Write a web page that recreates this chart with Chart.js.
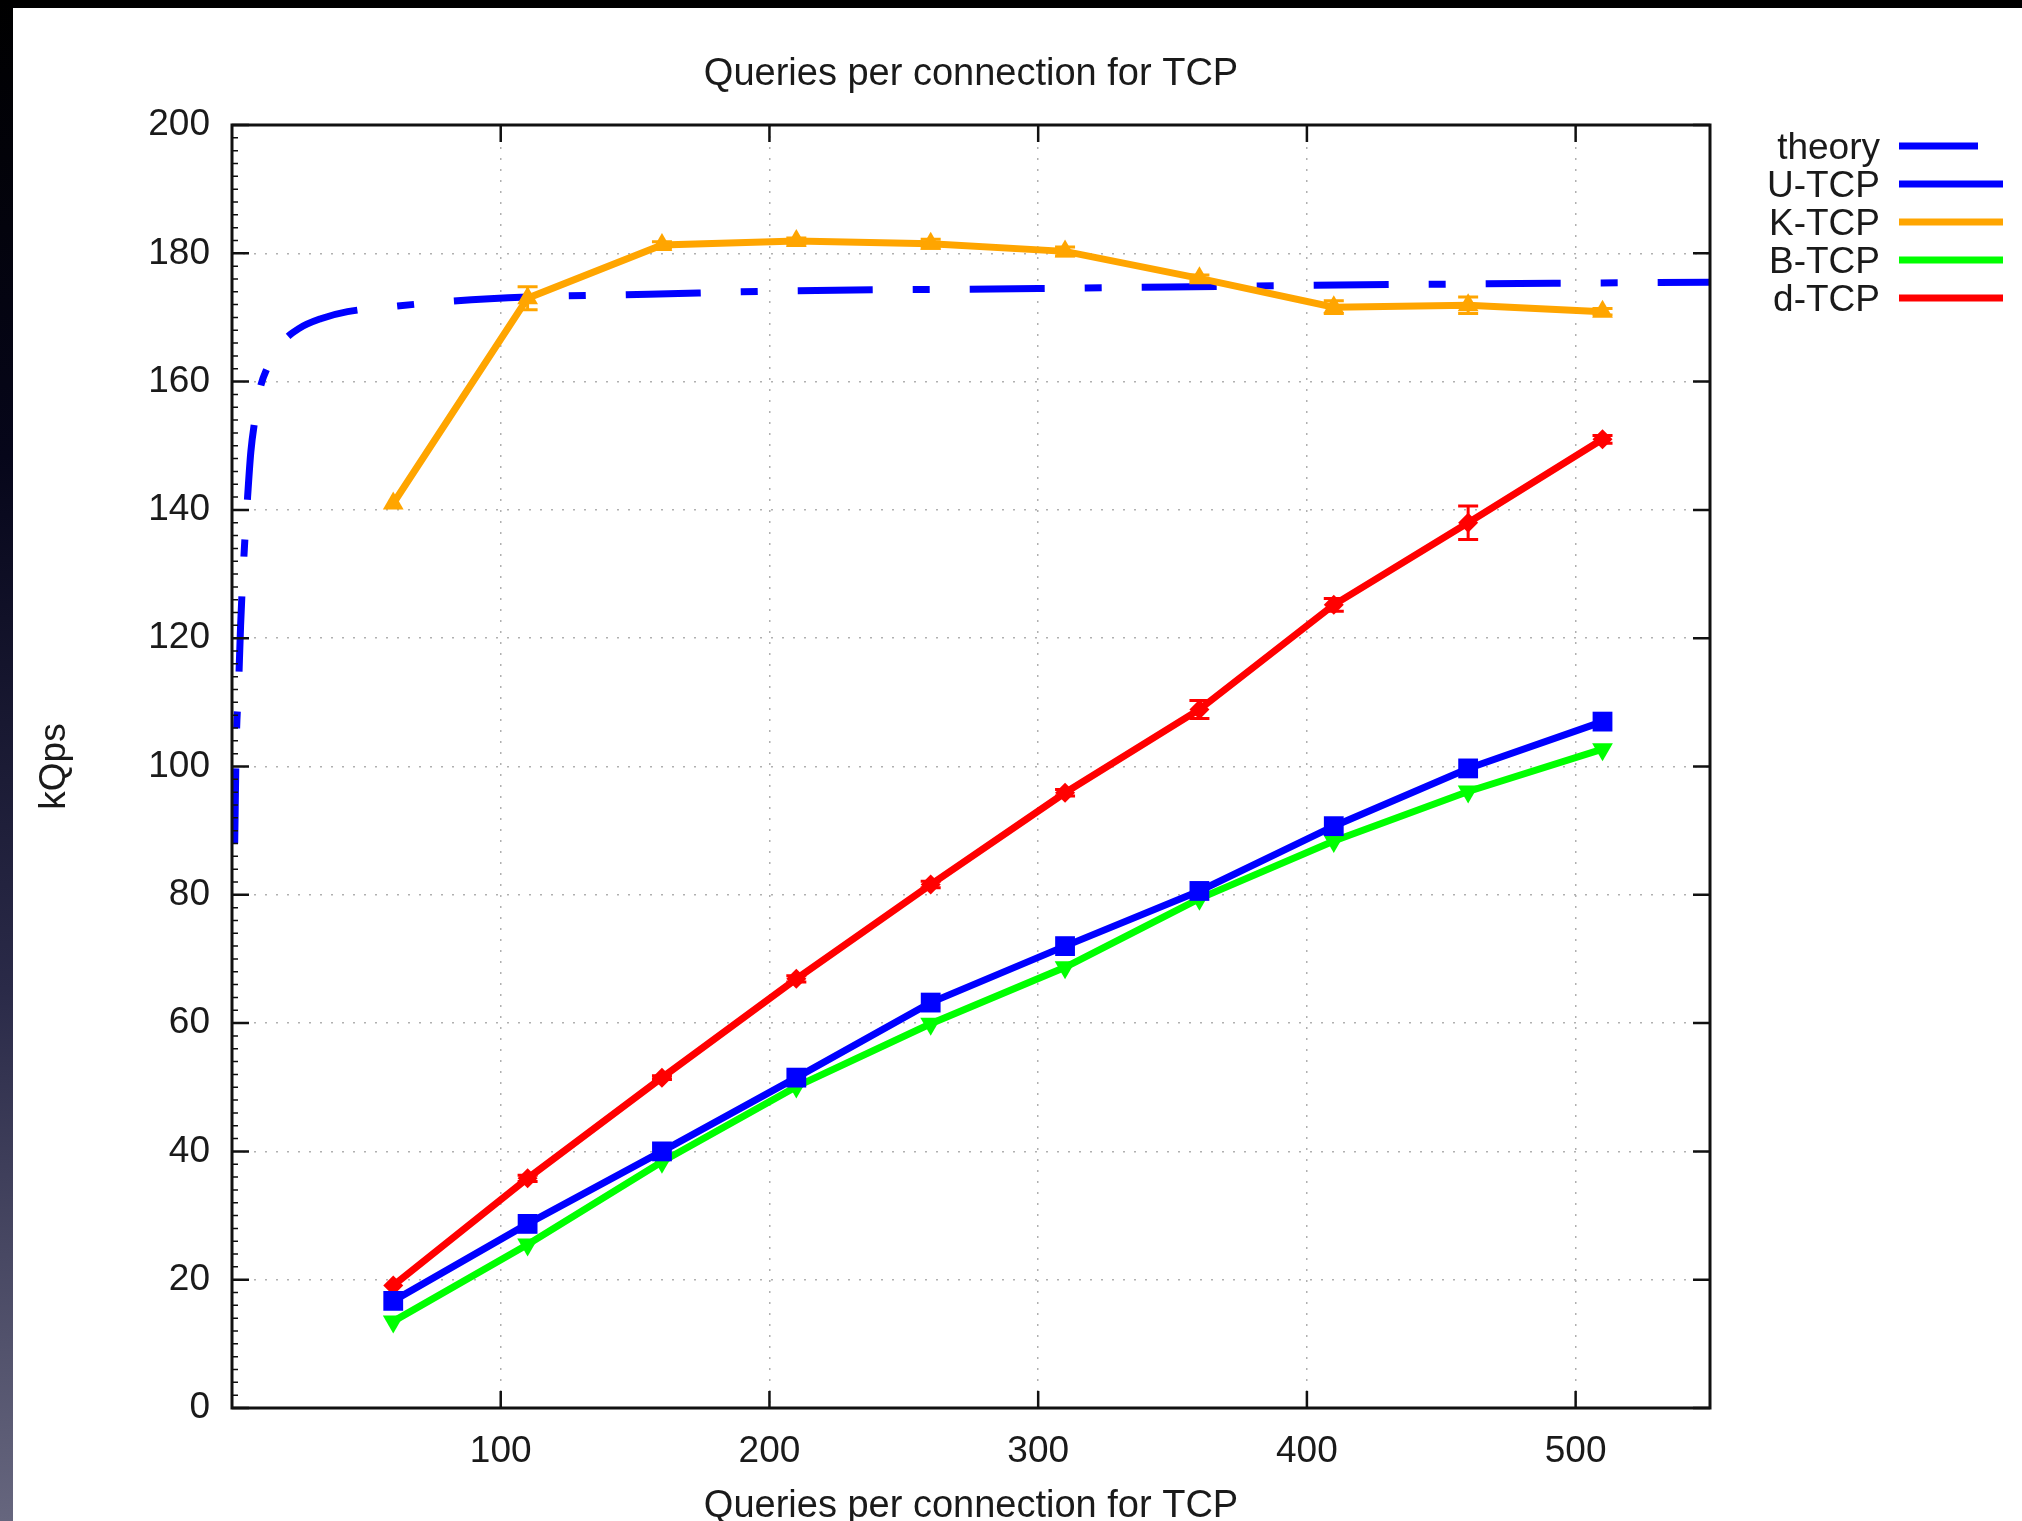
<!DOCTYPE html>
<html>
<head>
<meta charset="utf-8">
<title>Queries per connection for TCP</title>
<script src="https://cdn.jsdelivr.net/npm/chart.js@4.4.0/dist/chart.umd.min.js"></script>
<style>
  html, body { margin: 0; padding: 0; width: 2022px; height: 1521px; overflow: hidden; }
  body { background: linear-gradient(to bottom, #000 0%, #06061a 30%, #2a2a48 65%, #66667e 100%); }
  #sheet { position: absolute; left: 13px; top: 8px; width: 2009px; height: 1513px; background: #fff; }
</style>
</head>
<body>
<div id="sheet"><canvas id="myChart"></canvas></div>
<script>
// queries per connection (x) for the measured series
var connQueries = [60, 110, 160, 210, 260, 310, 360, 410, 460, 510];

// kQps
var uTcp = [16.7, 28.7, 40.0, 51.5, 63.2, 72.0, 80.6, 90.7, 99.7, 107.0];
var kTcp = [141.0, 173.0, 181.3, 181.9, 181.5, 180.3, 176.1, 171.6, 171.9, 170.9];
var bTcp = [13.5, 25.5, 38.4, 50.1, 59.9, 68.7, 79.4, 88.4, 96.1, 102.7];
var dTcp = [19.1, 35.8, 51.5, 66.9, 81.6, 95.9, 108.9, 125.2, 138.0, 151.0];

// error bar half heights (kQps)
var kTcpErr = [0, 1.8, 0.5, 0.5, 0.7, 0.7, 0.5, 1.0, 1.3, 0.5];
var dTcpErr = [0, 0.5, 0.3, 0.5, 0.5, 0.5, 1.4, 1.0, 2.6, 0.6];

// theory curve
var theoryX = [1, 1.6, 2.4, 3.2, 4.6, 5.8, 7, 8.5, 10.5, 13, 18.5, 25, 33, 43, 60, 80, 110, 155, 200, 300, 400, 550];
var theoryY = [88, 104, 112, 122, 134, 142, 149, 154, 159, 162, 166, 168.3, 169.8, 170.9, 171.7, 172.5, 173.2, 173.6, 174.1, 174.5, 175.0, 175.5];

var xTicks = [100, 200, 300, 400, 500];

var FONT = '"Liberation Sans", Arial, Helvetica, sans-serif';
var TEXT = '#1a1a1a';

function toPoints(xs, ys) {
    var pts = [];
    for (var i = 0; i < xs.length; i++) {
        pts.push({x: xs[i], y: ys[i]});
    }
    return pts;
}

// gnuplot style frame, inward tics, error bars, title and key
var gnuplotFrame = {
    id: 'gnuplotFrame',
    afterDatasetsDraw: function(chart) {
        var ctx = chart.ctx;
        var xs = chart.scales.x, ys = chart.scales.y;
        chart.data.datasets.forEach(function(ds) {
            if (!ds.errors) return;
            ctx.save();
            ctx.strokeStyle = ds.borderColor;
            ctx.lineWidth = 3;
            ds.data.forEach(function(p, i) {
                var e = ds.errors[i];
                if (!e) return;
                var px = xs.getPixelForValue(p.x);
                var top = ys.getPixelForValue(p.y + e);
                var bot = ys.getPixelForValue(p.y - e);
                ctx.beginPath();
                ctx.moveTo(px, top); ctx.lineTo(px, bot);
                ctx.moveTo(px - 10, top); ctx.lineTo(px + 10, top);
                ctx.moveTo(px - 10, bot); ctx.lineTo(px + 10, bot);
                ctx.stroke();
            });
            ctx.restore();
        });
    },
    afterDraw: function(chart) {
        var ctx = chart.ctx;
        var a = chart.chartArea;
        var xs = chart.scales.x, ys = chart.scales.y;
        ctx.save();
        ctx.strokeStyle = '#111';

        //tics
        ctx.lineWidth = 2.5;
        ctx.beginPath();
        xTicks.forEach(function(v) {
            var px = xs.getPixelForValue(v);
            ctx.moveTo(px, a.bottom); ctx.lineTo(px, a.bottom - 17);
            ctx.moveTo(px, a.top); ctx.lineTo(px, a.top + 17);
        });
        ys.ticks.forEach(function(t) {
            var py = ys.getPixelForValue(t.value);
            ctx.moveTo(a.left, py); ctx.lineTo(a.left + 17, py);
            ctx.moveTo(a.right, py); ctx.lineTo(a.right - 17, py);
        });
        ctx.stroke();

        //minor tics on the left
        ctx.lineWidth = 1.5;
        ctx.beginPath();
        for (var v = ys.min; v <= ys.max; v += 2) {
            if (v % 20 === 0) continue;
            var py = ys.getPixelForValue(v);
            ctx.moveTo(a.left, py); ctx.lineTo(a.left + 6, py);
        }
        ctx.stroke();

        //border
        ctx.lineWidth = 3;
        ctx.strokeRect(a.left, a.top, a.right - a.left, a.bottom - a.top);

        //title
        ctx.fillStyle = TEXT;
        ctx.font = '38px ' + FONT;
        ctx.textAlign = 'center';
        ctx.textBaseline = 'middle';
        ctx.fillText('Queries per connection for TCP', (a.left + a.right) / 2, a.top - 50);

        //key
        var rowY = a.top + 21;
        ctx.font = '37px ' + FONT;
        ctx.textAlign = 'right';
        chart.data.datasets.forEach(function(ds) {
            ctx.fillStyle = TEXT;
            ctx.fillText(ds.label, a.right + 170, rowY + 3);
            ctx.strokeStyle = ds.borderColor;
            ctx.lineWidth = 7;
            ctx.lineCap = 'butt';
            ctx.beginPath();
            if (ds.borderDash) {
                ctx.moveTo(a.right + 189, rowY); ctx.lineTo(a.right + 268, rowY);
            } else {
                ctx.moveTo(a.right + 189, rowY); ctx.lineTo(a.right + 293, rowY);
            }
            ctx.stroke();
            rowY += 38;
        });
        ctx.restore();
    }
};

function buildQueriesChart() {
    var ctx = document.getElementById('myChart').getContext('2d');
    var chart = new Chart(ctx, {
        type: 'line',
        data: {
            datasets: [{
                label: 'theory',
                data: toPoints(theoryX, theoryY),
                borderColor: '#0000ff',
                borderWidth: 7,
                borderDash: [75, 40, 17, 40],
                borderCapStyle: 'butt',
                cubicInterpolationMode: 'monotone',
                pointRadius: 0,
                order: 5
            }, {
                label: 'U-TCP',
                data: toPoints(connQueries, uTcp),
                borderColor: '#0000ff',
                backgroundColor: '#0000ff',
                borderWidth: 7,
                pointStyle: 'rect',
                pointRadius: 14,
                pointBorderWidth: 0,
                order: 1
            }, {
                label: 'K-TCP',
                data: toPoints(connQueries, kTcp),
                errors: kTcpErr,
                borderColor: '#ffa500',
                backgroundColor: '#ffa500',
                borderWidth: 7,
                pointStyle: 'triangle',
                pointRadius: 12,
                pointBorderWidth: 0,
                order: 4
            }, {
                label: 'B-TCP',
                data: toPoints(connQueries, bTcp),
                borderColor: '#00ff00',
                backgroundColor: '#00ff00',
                borderWidth: 7,
                pointStyle: 'triangle',
                pointRotation: 180,
                pointRadius: 12,
                pointBorderWidth: 0,
                order: 2
            }, {
                label: 'd-TCP',
                data: toPoints(connQueries, dTcp),
                errors: dTcpErr,
                borderColor: '#ff0000',
                backgroundColor: '#ff0000',
                borderWidth: 7,
                pointStyle: 'rectRot',
                pointRadius: 10,
                pointBorderWidth: 0,
                order: 3
            }]
        },
        options: {
            responsive: true,
            maintainAspectRatio: false,
            animation: false,
            layout: {
                padding: {top: 117, right: 312, left: 0, bottom: 0}
            },
            plugins: {
                legend: {display: false},
                title: {display: false},
                tooltip: {enabled: false}
            },
            scales: {
                x: {
                    type: 'linear',
                    position: 'bottom',
                    min: 0,
                    max: 550,
                    afterFit: function(s) { s.height = 113; },
                    ticks: {
                        stepSize: 100,
                        padding: 22,
                        color: TEXT,
                        font: {family: FONT, size: 37},
                        maxRotation: 0,
                        callback: function(v) {
                            return (v > 0 && v % 100 === 0) ? v : '';
                        }
                    },
                    grid: {color: '#b0b0b0', lineWidth: 1.5, drawTicks: false},
                    border: {display: false, dash: [2, 9]},
                    title: {
                        display: true,
                        text: 'Queries per connection for TCP',
                        color: TEXT,
                        font: {family: FONT, size: 38, lineHeight: 0.75},
                        padding: {top: 0, bottom: 0}
                    }
                },
                y: {
                    min: 0,
                    max: 200,
                    afterFit: function(s) { s.width = 219; },
                    ticks: {
                        stepSize: 20,
                        padding: 22,
                        color: TEXT,
                        font: {family: FONT, size: 37}
                    },
                    grid: {color: '#b0b0b0', lineWidth: 1.5, drawTicks: false},
                    border: {display: false, dash: [2, 9]},
                    title: {
                        display: true,
                        text: 'kQps',
                        color: TEXT,
                        font: {family: FONT, size: 37},
                        padding: {top: 20, bottom: 0}
                    }
                }
            }
        },
        plugins: [gnuplotFrame]
    });
}

buildQueriesChart();
</script>
</body>
</html>
